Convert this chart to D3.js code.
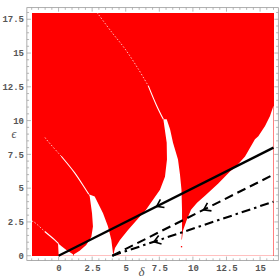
<!DOCTYPE html>
<html>
<head>
<meta charset="utf-8">
<script src="https://cdn.jsdelivr.net/npm/d3@7"></script>
<style>
  body { margin: 0; background: #fff; }
</style>
</head>
<body>
<div class="container"></div>
<script>
// plot ranges and tick labels
let deltaDomain = [-2, 16]
let epsDomain = [0, 18]
let xTicks = [0, 2.5, 5, 7.5, 10, 12.5, 15]
let yTicks = [0, 2.5, 5, 7.5, 10, 12.5, 15, 17.5]

// thin white boundary curves, [delta, epsilon]
let thin1 = [[-2, 2.55], [-1.88, 2.53], [-1.03, 1.79], [-0.29, 1.17], [0.0, 0.9]]
let thin2 = [[-1.01, 8.75], [-0.91, 8.61], [0.2, 7.36], [1.2, 6.13], [1.95, 5.01], [2.25, 4.55]]
let thin3 = [[2.86, 18], [3.96, 16.54], [4.95, 15.3], [5.94, 13.81], [6.68, 12.57], [7.31, 11.08], [7.8, 10.09]]
// where each thin curve stops being faint (index into the curve)
let faintUntil = [2, 2, 4]

// white (unstable) areas, [delta, epsilon]
let wedge1 = [[-0.04, 0.92], [0.01, 0], [1.11, 0], [1.07, 0.1], [0.58, 0.42], [0.2, 0.72]]
let wedge2 = [[2.25, 4.55], [2.32, 4.39], [2.49, 3.15], [2.56, 2.16], [2.44, 1.41], [2.06, 0.8],
  [1.57, 0.37], [1.15, 0.1], [1.11, 0], [4.09, 0], [4.05, 0.18], [3.93, 1.17], [3.68, 2.16],
  [3.31, 3.15], [2.69, 4.39]]
let wedge3 = [[7.8, 10.09], [8.05, 8.36], [8.07, 7.12], [7.92, 5.85], [7.55, 4.89], [7.03, 4.14],
  [6.51, 3.4], [5.84, 2.66], [5.17, 1.91], [4.57, 1.17], [4.2, 0.57], [4.09, 0.1], [4.09, 0],
  [16, 0], [16, 11.08], [15.99, 11.08], [15.74, 10.34], [15.37, 9.6], [14.87, 8.85], [14.62, 8.61],
  [13.88, 7.34], [13.21, 6.6], [12.76, 6.23], [11.87, 5.33], [10.9, 4.44], [10.31, 3.92],
  [9.86, 3.4], [9.52, 2.58], [9.26, 1.84], [9.19, 1.24], [9.15, 1.17], [9.19, 1.91], [9.19, 3.4],
  [9.15, 4.89], [9.04, 6.0], [8.89, 7.12], [8.52, 8.36], [8.3, 9.35], [8.05, 10.09]]
let redDot = [9.15, 0.67]

// trajectories and where their arrows sit
let solidLine = [[0, 0], [16, 8]]
let dashedLine = [[4, 0], [16, 6]]
let dashDotLine = [[4, 0], [16, 4]]
let arrowAt = [7.3, 10.8, 7.1]

let width = 280
let height = 280

let x = d3.scaleLinear().domain(deltaDomain).range([31.7, 273.5])
let y = d3.scaleLinear().domain(epsDomain).range([255.7, 12.5])

let svg = d3.select(".container")
  .append("svg")
  .attr("width", width)
  .attr("height", height)
  .style("display", "block")

let line = d3.line()
  .x(function (d) { return x(d[0]); })
  .y(function (d) { return y(d[1]); })

let smooth = d3.line().curve(d3.curveCatmullRom)
  .x(function (d) { return x(d[0]); })
  .y(function (d) { return y(d[1]); })

// stable region
svg.append("rect")
  .attr("x", x(deltaDomain[0]))
  .attr("y", y(epsDomain[1]))
  .attr("width", x(deltaDomain[1]) - x(deltaDomain[0]))
  .attr("height", y(epsDomain[0]) - y(epsDomain[1]))
  .attr("fill", "#ff0000")
  .attr("shape-rendering", "crispEdges")

svg.selectAll(".wedge")
  .data([wedge1, wedge2, wedge3])
  .enter()
  .append("path")
  .attr("class", "wedge")
  .attr("d", function (d) { return line(d) + "Z"; })
  .attr("fill", "#fff")

let thins = [thin1, thin2, thin3]

// faint dotted start of each curve
svg.selectAll(".thinFaint")
  .data(thins)
  .enter()
  .append("path")
  .attr("class", "thinFaint")
  .attr("d", function (d, i) { return smooth(d.slice(0, faintUntil[i] + 1)); })
  .attr("fill", "none")
  .attr("stroke", "#fff")
  .attr("stroke-opacity", 0.75)
  .attr("stroke-width", 1)
  .attr("stroke-dasharray", "1.5,1.8")

svg.selectAll(".thin")
  .data(thins)
  .enter()
  .append("path")
  .attr("class", "thin")
  .attr("d", function (d, i) { return smooth(d.slice(faintUntil[i])); })
  .attr("fill", "none")
  .attr("stroke", "#fff")
  .attr("stroke-width", 1.1)

svg.append("rect")
  .attr("x", x(redDot[0]) - 0.6)
  .attr("y", y(redDot[1]) - 0.6)
  .attr("width", 1.3)
  .attr("height", 1.3)
  .attr("fill", "#ff0000")

// trajectories
let styles = [
  { data: solidLine, dash: null, w: 2.3 },
  { data: dashedLine, dash: "9,5", w: 2.1 },
  { data: dashDotLine, dash: "9,4,2.5,4", w: 2.1 }
]
styles.forEach(function (s, i) {
  svg.append("path")
    .attr("d", line(s.data))
    .attr("fill", "none")
    .attr("stroke", "#000")
    .attr("stroke-width", s.w)
    .attr("stroke-dasharray", s.dash)

  let p0 = s.data[0], p1 = s.data[1]
  let slope = (p1[1] - p0[1]) / (p1[0] - p0[0])
  let ad = arrowAt[i]
  let ae = p0[1] + slope * (ad - p0[0])
  let ang = Math.atan2(y(p1[1]) - y(p0[1]), x(p1[0]) - x(p0[0])) * 180 / Math.PI
  svg.append("path")
    .attr("transform", "translate(" + x(ad) + "," + y(ae) + ") rotate(" + ang + ")")
    .attr("d", "M6.5,-4.5L0,0L6.5,4.5")
    .attr("fill", "none")
    .attr("stroke", "#000")
    .attr("stroke-width", 1.6)
})

// frame
let fx0 = x(-2.36), fx1 = x(16.36), fy0 = y(18.36), fy1 = y(-0.36)
svg.append("rect")
  .attr("x", fx0)
  .attr("y", fy0)
  .attr("width", fx1 - fx0)
  .attr("height", fy1 - fy0)
  .attr("fill", "none")
  .attr("stroke", "#9a9a9a")
  .attr("stroke-width", 0.8)

let xMinor = d3.range(-2, 16.01, 0.5)
let yMinor = d3.range(0, 18.01, 0.5)

function isMajor(v) { return Math.abs(v / 2.5 - Math.round(v / 2.5)) < 1e-6; }

let ticks = svg.append("g").attr("stroke", "#9a9a9a").attr("stroke-width", 0.7)
xMinor.forEach(function (v) {
  let len = isMajor(v) ? 4 : 2.2
  ticks.append("line").attr("x1", x(v)).attr("x2", x(v)).attr("y1", fy1).attr("y2", fy1 - len)
  ticks.append("line").attr("x1", x(v)).attr("x2", x(v)).attr("y1", fy0).attr("y2", fy0 + len)
})
yMinor.forEach(function (v) {
  let len = isMajor(v) ? 4 : 2.2
  ticks.append("line").attr("y1", y(v)).attr("y2", y(v)).attr("x1", fx0).attr("x2", fx0 + len)
  ticks.append("line").attr("y1", y(v)).attr("y2", y(v)).attr("x1", fx1).attr("x2", fx1 - len)
})

svg.selectAll(".xlab")
  .data(xTicks)
  .enter()
  .append("text")
  .attr("class", "xlab")
  .attr("x", function (d) { return x(d) + 0.5; })
  .attr("y", 270.5)
  .attr("text-anchor", "middle")
  .attr("font-family", "Liberation Mono, monospace")
  .attr("font-weight", "bold")
  .attr("font-size", "9px")
  .attr("fill", "#555")
  .text(function (d) { return d; })

svg.selectAll(".ylab")
  .data(yTicks)
  .enter()
  .append("text")
  .attr("class", "ylab")
  .attr("x", 24)
  .attr("y", function (d) { return y(d) + 3.2; })
  .attr("text-anchor", "end")
  .attr("font-family", "Liberation Mono, monospace")
  .attr("font-weight", "bold")
  .attr("font-size", "9px")
  .attr("fill", "#555")
  .text(function (d) { return d; })

svg.append("text")
  .attr("x", 141.5)
  .attr("y", 275.5)
  .attr("text-anchor", "middle")
  .attr("font-family", "Liberation Serif, serif")
  .attr("font-style", "italic")
  .attr("font-size", "13px")
  .attr("fill", "#555")
  .text("δ")

svg.append("text")
  .attr("x", 14)
  .attr("y", 138)
  .attr("text-anchor", "middle")
  .attr("font-family", "Liberation Serif, serif")
  .attr("font-style", "italic")
  .attr("font-size", "12px")
  .attr("fill", "#555")
  .text("ϵ")
</script>
</body>
</html>
